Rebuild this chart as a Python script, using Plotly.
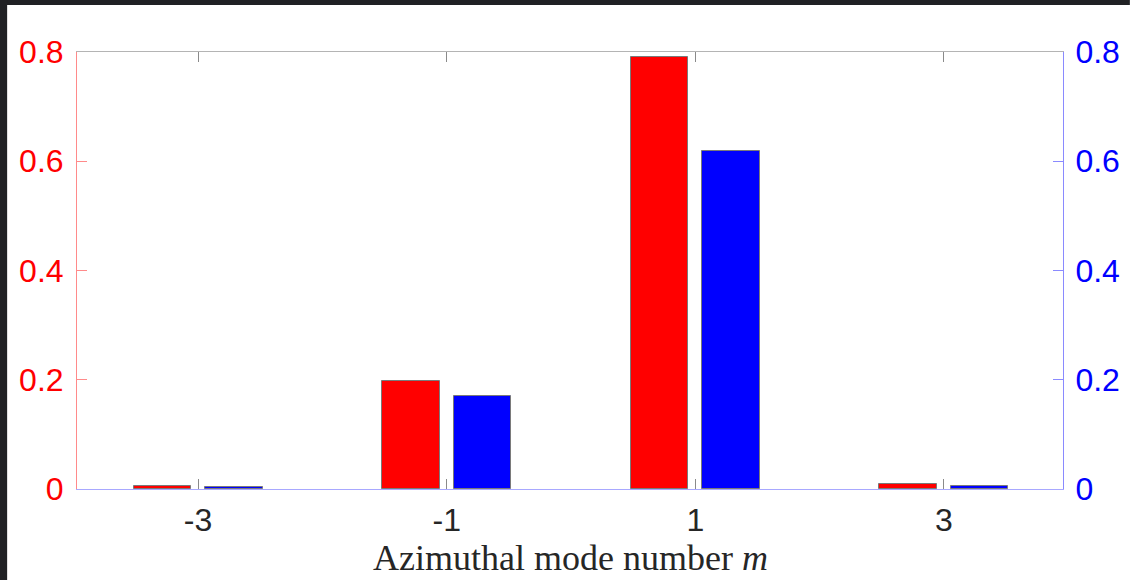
import plotly.graph_objects as go

modes = [-3, -1, 1, 3]
red_vals = [0.005, 0.198, 0.790, 0.009]
blue_vals = [0.003, 0.170, 0.619, 0.005]
tick_vals_y = [0, 0.2, 0.4, 0.6, 0.8]
tick_text_y = ["0", "0.2", "0.4", "0.6", "0.8"]
tick_text_x = ["-3", "-1", "1", "3"]

W, H = 1132, 580
L, R, T, B = 77, 67, 52, 91
pw, ph = W - L - R, H - T - B

fig = go.Figure()
fig.add_trace(go.Bar(
    x=modes, y=red_vals, yaxis="y", xaxis="x",
    offset=-0.519, width=0.463,
    marker=dict(color="#ff0000", line=dict(color="#7a7a7a", width=1)),
    showlegend=False,
))
fig.add_trace(go.Bar(
    x=modes, y=blue_vals, yaxis="y2", xaxis="x",
    offset=0.056, width=0.463,
    marker=dict(color="#0000ff", line=dict(color="#7a7a7a", width=1)),
    showlegend=False,
))
# invisible helper trace so the top (mirror) axis is drawn
fig.add_trace(go.Scatter(
    x=modes, y=[0] * len(modes), xaxis="x2", yaxis="y",
    mode="none", showlegend=False, hoverinfo="skip",
))

tick_font = dict(family="Liberation Sans, Arial, sans-serif", size=32)
xr = [-3.974, 3.958]

fig.update_layout(
    width=W, height=H,
    margin=dict(l=L, r=R, t=T, b=B, pad=0),
    paper_bgcolor="white", plot_bgcolor="white",
    bargap=0,
    xaxis=dict(
        range=xr, tickvals=modes, ticktext=tick_text_x,
        showgrid=False, zeroline=False,
        showline=True, linecolor="#a8a8ff", linewidth=1,
        ticks="inside", ticklen=10, tickcolor="#8a8a8a", tickwidth=1,
        tickfont=dict(color="#262626", **tick_font),
        ticklabelstandoff=3,
        anchor="y",
    ),
    xaxis2=dict(
        range=xr, tickvals=modes, overlaying="x", side="top", anchor="y",
        showgrid=False, zeroline=False,
        showline=True, linecolor="#b4b4b4", linewidth=1,
        ticks="inside", ticklen=10, tickcolor="#8a8a8a", tickwidth=1,
        showticklabels=False,
    ),
    yaxis=dict(
        range=[0, 0.8], tickvals=tick_vals_y, ticktext=tick_text_y,
        showgrid=False, zeroline=False,
        showline=True, linecolor="#ff8a8a", linewidth=1,
        ticks="inside", ticklen=10, tickcolor="#ff8a8a", tickwidth=1,
        tickfont=dict(color="#ff0000", **tick_font),
        ticklabelstandoff=6,
    ),
    yaxis2=dict(
        range=[0, 0.8], tickvals=tick_vals_y, ticktext=tick_text_y,
        overlaying="y", side="right", anchor="x",
        showgrid=False, zeroline=False,
        showline=True, linecolor="#8a8aff", linewidth=1,
        ticks="inside", ticklen=10, tickcolor="#8a8aff", tickwidth=1,
        tickfont=dict(color="#0000ff", **tick_font),
        ticklabelstandoff=5,
    ),
    annotations=[dict(
        text="Azimuthal mode number <i>m</i>",
        xref="paper", yref="paper", x=0.5, y=-(536 - T - ph) / ph,
        xanchor="center", yanchor="top", showarrow=False,
        font=dict(family="Liberation Serif, Times New Roman, serif", size=36, color="#262626"),
    )],
    shapes=[
        dict(type="rect", xref="paper", yref="paper", layer="above",
             x0=-L / pw, x1=(W - L) / pw, y0=1 + (T - 5) / ph, y1=1 + T / ph + 0.01,
             fillcolor="#202124", line=dict(width=0)),
        dict(type="rect", xref="paper", yref="paper", layer="above",
             x0=-L / pw - 0.01, x1=-(L - 7) / pw, y0=-B / ph - 0.01, y1=1 + T / ph + 0.01,
             fillcolor="#202124", line=dict(width=0)),
    ],
)

fig.write_html("out.html")
